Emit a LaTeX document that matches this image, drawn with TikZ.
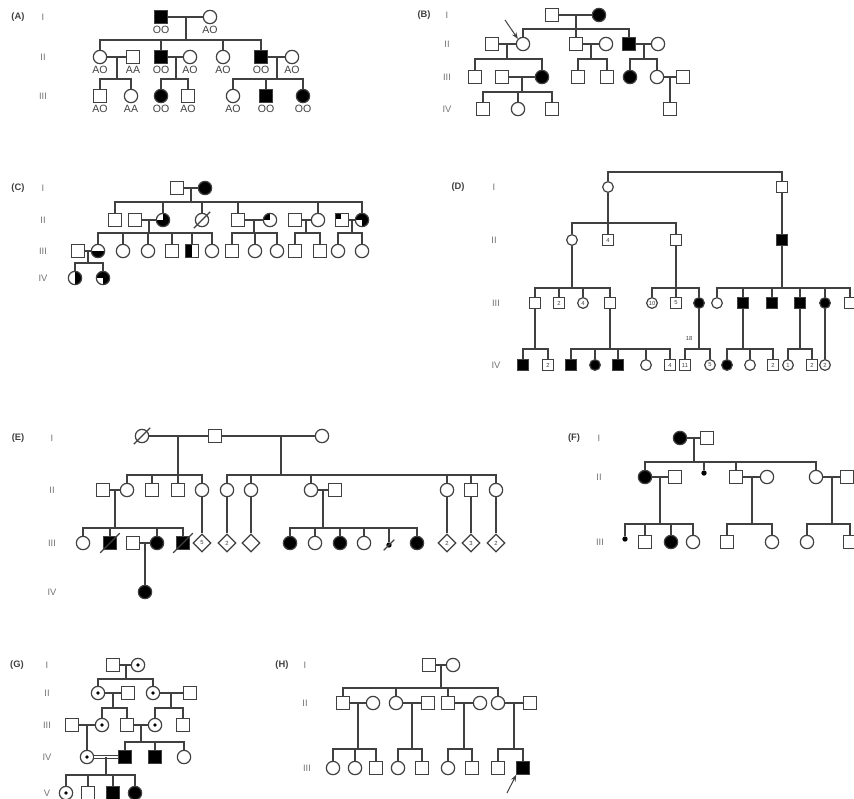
\documentclass[tikz,border=0pt]{standalone}
\usepackage{fontspec}
\setmainfont{Liberation Sans}
\usetikzlibrary{arrows.meta,shapes.geometric}

\begin{document}
\begin{tikzpicture}[
  x=0.3mm, y=-0.3mm,
  font=\fontsize{9}{10}\selectfont,
  line width=0.36mm, color=black!75,
  male/.style={draw, fill=white, minimum size=3.7mm, inner sep=0pt},
  female/.style={circle, draw, fill=white, minimum size=4mm, inner sep=0pt},
  unknown/.style={diamond, draw, fill=white, minimum size=5.4mm, inner sep=0pt,
                  font=\fontsize{5}{5}\selectfont},
  tinysym/.style={minimum size=3.2mm, font=\fontsize{5}{5}\selectfont},
  aff/.style={fill=black},
  mdot/.style={circle, fill=black, minimum size=1.6mm, inner sep=0pt},
  carrier/.style={path picture={\fill[black] (path picture bounding box.center) circle (0.55mm);}},
  rhalf/.style={path picture={\fill[black] (path picture bounding box.north) rectangle (path picture bounding box.south east);}},
  lhalf/.style={path picture={\fill[black] (path picture bounding box.north west) rectangle (path picture bounding box.south);}},
  bhalf/.style={path picture={\fill[black] (path picture bounding box.west) rectangle (path picture bounding box.south east);}},
  tlquart/.style={path picture={\fill[black] (path picture bounding box.north west) rectangle (path picture bounding box.center);}},
  nottl/.style={path picture={\fill[black] (path picture bounding box.north) rectangle (path picture bounding box.south east);
                              \fill[black] (path picture bounding box.west) rectangle (path picture bounding box.south);}},
  notbl/.style={path picture={\fill[black] (path picture bounding box.north) rectangle (path picture bounding box.south east);
                              \fill[black] (path picture bounding box.north west) rectangle (path picture bounding box.center);}},
  tlcorner/.style={path picture={\fill[black] (path picture bounding box.north west) rectangle ++(1.5mm,-1.5mm);}},
  geno/.style={font=\fontsize{9}{9}\selectfont, inner sep=1.3pt},
  gen/.style={text=black!55, font=\fontsize{8}{9}\selectfont},
  panel/.style={font=\bfseries\fontsize{8}{9}\selectfont},
  arr/.style={-{Stealth[length=2mm,width=1.5mm]}, line width=0.3mm}
]
\useasboundingbox (0,0) rectangle (854,798);

% ---------- (A)
\node[panel] (labA) at (18,17) {(A)};
\node[gen] (AgI) at (43,17) {I};
\node[gen] (AgII) at (43,57) {II};
\node[gen] (AgIII) at (43,96) {III};
\node[male, aff, label={[geno]below:OO}] (A1) at (161,17) {};
\node[female, label={[geno]below:AO}] (A2) at (210,17) {};
\node[female, label={[geno]below:AO}] (A3) at (100,57) {};
\node[male, label={[geno]below:AA}] (A4) at (133,57) {};
\node[male, aff, label={[geno]below:OO}] (A5) at (161,57) {};
\node[female, label={[geno]below:AO}] (A6) at (190,57) {};
\node[female, label={[geno]below:AO}] (A7) at (223,57) {};
\node[male, aff, label={[geno]below:OO}] (A8) at (261,57) {};
\node[female, label={[geno]below:AO}] (A9) at (292,57) {};
\node[male, label={[geno]below:AO}] (A10) at (100,96) {};
\node[female, label={[geno]below:AA}] (A11) at (131,96) {};
\node[female, aff, label={[geno]below:OO}] (A12) at (161,96) {};
\node[male, label={[geno]below:AO}] (A13) at (188,96) {};
\node[female, label={[geno]below:AO}] (A14) at (233,96) {};
\node[male, aff, label={[geno]below:OO}] (A15) at (266,96) {};
\node[female, aff, label={[geno]below:OO}] (A16) at (303,96) {};
\coordinate (jA1) at (186,40);
\coordinate (jA2) at (117,79);
\coordinate (jA3) at (176,79);
\coordinate (jA4) at (277,79);
\draw (A1) -- (A2);
\draw (jA1 |- A1) -- (jA1);
\draw (A3.north) |- (jA1) -| (A8.north);
\draw (A5.north) -- (A5.north |- jA1) (A7.north) -- (A7.north |- jA1);
\draw (A3) -- (A4);
\draw (jA2 |- A3) -- (jA2);
\draw (A10.north) |- (jA2) -| (A11.north);
\draw (A5) -- (A6);
\draw (jA3 |- A5) -- (jA3);
\draw (A12.north) |- (jA3) -| (A13.north);
\draw (A8) -- (A9);
\draw (jA4 |- A8) -- (jA4);
\draw (A14.north) |- (jA4) -| (A16.north);
\draw (A15.north) -- (A15.north |- jA4);

% ---------- (B)
\node[panel] (labB) at (424,15) {(B)};
\node[gen] (BgI) at (447,15) {I};
\node[gen] (BgII) at (447,44) {II};
\node[gen] (BgIII) at (447,77) {III};
\node[gen] (BgIV) at (447,109) {IV};
\node[male] (B1) at (552,15) {};
\node[female, aff] (B2) at (599,15) {};
\node[male] (B3) at (492,44) {};
\node[female] (B4) at (523,44) {};
\node[male] (B5) at (576,44) {};
\node[female] (B6) at (606,44) {};
\node[male, aff] (B7) at (629,44) {};
\node[female] (B8) at (658,44) {};
\node[male] (B9) at (475,77) {};
\node[male] (B10) at (502,77) {};
\node[female, aff] (B11) at (542,77) {};
\node[male] (B12) at (578,77) {};
\node[male] (B13) at (607,77) {};
\node[female, aff] (B14) at (630,77) {};
\node[female] (B15) at (657,77) {};
\node[male] (B16) at (683,77) {};
\node[male] (B17) at (483,109) {};
\node[female] (B18) at (518,109) {};
\node[male] (B19) at (552,109) {};
\node[male] (B20) at (670,109) {};
\coordinate (jB1) at (576,29);
\coordinate (jB2) at (507,59);
\coordinate (jB3) at (591,59);
\coordinate (jB4) at (644,59);
\coordinate (jB5) at (522,92);
\coordinate (jB6) at (670,92);
\coordinate (pB) at (505,20);
\draw (B1) -- (B2);
\draw (jB1 |- B1) -- (jB1);
\draw (B4.north) |- (jB1) -| (B7.north);
\draw (B5.north) -- (B5.north |- jB1);
\draw (B3) -- (B4);
\draw (jB2 |- B3) -- (jB2);
\draw (B9.north) |- (jB2) -| (B11.north);
\draw (B5) -- (B6);
\draw (jB3 |- B5) -- (jB3);
\draw (B12.north) |- (jB3) -| (B13.north);
\draw (B7) -- (B8);
\draw (jB4 |- B7) -- (jB4);
\draw (B14.north) |- (jB4) -| (B15.north);
\draw (B10) -- (B11);
\draw (jB5 |- B10) -- (jB5);
\draw (B17.north) |- (jB5) -| (B19.north);
\draw (B18.north) -- (B18.north |- jB5);
\draw (B15) -- (B16);
\draw (jB6 |- B15) -- (B20);
\draw[arr] (pB) -- (B4.north west);

% ---------- (C)
\node[panel] (labC) at (18,188) {(C)};
\node[gen] (CgI) at (43,188) {I};
\node[gen] (CgII) at (43,220) {II};
\node[gen] (CgIII) at (43,251) {III};
\node[gen] (CgIV) at (43,278) {IV};
\node[male] (C1) at (177,188) {};
\node[female, aff] (C2) at (205,188) {};
\node[male] (C3) at (115,220) {};
\node[male] (C4) at (135,220) {};
\node[female, nottl] (C5) at (163,220) {};
\node[female] (C6) at (202,220) {};
\node[male] (C7) at (238,220) {};
\node[female, tlquart] (C8) at (270,220) {};
\node[male] (C9) at (295,220) {};
\node[female] (C10) at (318,220) {};
\node[male, tlcorner] (C11) at (342,220) {};
\node[female, notbl] (C12) at (362,220) {};
\node[male] (C13) at (78,251) {};
\node[female, bhalf] (C14) at (98,251) {};
\node[female] (C15) at (123,251) {};
\node[female] (C16) at (148,251) {};
\node[male] (C17) at (172,251) {};
\node[male, lhalf] (C18) at (192,251) {};
\node[female] (C19) at (212,251) {};
\node[male] (C20) at (232,251) {};
\node[female] (C21) at (255,251) {};
\node[female] (C22) at (277,251) {};
\node[male] (C23) at (295,251) {};
\node[male] (C24) at (320,251) {};
\node[female] (C25) at (338,251) {};
\node[female] (C26) at (362,251) {};
\node[female, rhalf] (C27) at (75,278) {};
\node[female, notbl] (C28) at (103,278) {};
\coordinate (jC1) at (191,202);
\coordinate (jC2) at (149,233);
\coordinate (jC3) at (254,233);
\coordinate (jC4) at (306,233);
\coordinate (jC5) at (352,233);
\coordinate (jC6) at (88,263);
\draw (C1) -- (C2);
\draw (jC1 |- C1) -- (jC1);
\draw (C3.north) |- (jC1) -| (C12.north);
\draw (C5.north) -- (C5.north |- jC1) (C6.north) -- (C6.north |- jC1)
      (C7.north) -- (C7.north |- jC1) (C10.north) -- (C10.north |- jC1);
\draw ([shift={(-0.9mm,-0.9mm)}]C6.south west) -- ([shift={(0.9mm,0.9mm)}]C6.north east);
\draw (C4) -- (C5);
\draw (jC2 |- C4) -- (jC2);
\draw (C14.north) |- (jC2) -| (C19.north);
\draw (C15.north) -- (C15.north |- jC2) (C16.north) -- (C16.north |- jC2)
      (C17.north) -- (C17.north |- jC2) (C18.north) -- (C18.north |- jC2);
\draw (C7) -- (C8);
\draw (jC3 |- C7) -- (jC3);
\draw (C20.north) |- (jC3) -| (C22.north);
\draw (C21.north) -- (C21.north |- jC3);
\draw (C9) -- (C10);
\draw (jC4 |- C9) -- (jC4);
\draw (C23.north) |- (jC4) -| (C24.north);
\draw (C11) -- (C12);
\draw (jC5 |- C11) -- (jC5);
\draw (C25.north) |- (jC5) -| (C26.north);
\draw (C13) -- (C14);
\draw (jC6 |- C13) -- (jC6);
\draw (C27.north) |- (jC6) -| (C28.north);

% ---------- (D)
\node[panel] (labD) at (458,187) {(D)};
\node[gen] (DgI) at (494,187) {I};
\node[gen] (DgII) at (494,240) {II};
\node[gen] (DgIII) at (496,303) {III};
\node[gen] (DgIV) at (496,365) {IV};
\node[female, tinysym] (D1) at (608,187) {};
\node[male, tinysym] (D2) at (782,187) {};
\node[female, tinysym] (D3) at (572,240) {};
\node[male, tinysym] (D4) at (608,240) {4};
\node[male, tinysym] (D5) at (676,240) {};
\node[male, tinysym, aff] (D6) at (782,240) {};
\node[male, tinysym] (D7) at (535,303) {};
\node[male, tinysym] (D8) at (559,303) {2};
\node[female, tinysym] (D9) at (583,303) {4};
\node[male, tinysym] (D10) at (610,303) {};
\node[female, tinysym] (D11) at (652,303) {10};
\node[male, tinysym] (D12) at (676,303) {5};
\node[female, tinysym, aff] (D13) at (699,303) {};
\node[female, tinysym] (D14) at (717,303) {};
\node[male, tinysym, aff] (D15) at (743,303) {};
\node[male, tinysym, aff] (D16) at (772,303) {};
\node[male, tinysym, aff] (D17) at (800,303) {};
\node[female, tinysym, aff] (D18) at (825,303) {};
\node[male, tinysym] (D19) at (850,303) {};
\node[male, tinysym, aff] (D20) at (523,365) {};
\node[male, tinysym] (D21) at (548,365) {2};
\node[male, tinysym, aff] (D22) at (571,365) {};
\node[female, tinysym, aff] (D23) at (595,365) {};
\node[male, tinysym, aff] (D24) at (618,365) {};
\node[female, tinysym] (D25) at (646,365) {};
\node[male, tinysym] (D26) at (670,365) {4};
\node[male, tinysym] (D27) at (685,365) {11};
\node[female, tinysym] (D28) at (710,365) {5};
\node[female, tinysym, aff] (D29) at (727,365) {};
\node[female, tinysym] (D30) at (750,365) {};
\node[male, tinysym] (D31) at (773,365) {2};
\node[female, tinysym] (D32) at (788,365) {1};
\node[male, tinysym] (D33) at (812,365) {2};
\node[female, tinysym] (D34) at (825,365) {2};
\node[font=\fontsize{5}{5}\selectfont] (n18) at (689,338) {18};
\coordinate (jD0) at (695,172);
\coordinate (jD1) at (608,223);
\coordinate (jD2) at (572,288);
\coordinate (jD3) at (676,288);
\coordinate (jD4) at (782,288);
\coordinate (jD5) at (535,349);
\coordinate (jD6) at (610,349);
\coordinate (jD7) at (699,349);
\coordinate (jD8) at (743,349);
\coordinate (jD9) at (800,349);
\draw (D1.north) |- (jD0) -| (D2.north);
\draw (D2) -- (D6);
\draw (D1) -- (jD1);
\draw (D3.north) |- (jD1) -| (D5.north);
\draw (D4.north) -- (D4.north |- jD1);
\draw (D3) -- (jD2);
\draw (D7.north) |- (jD2) -| (D10.north);
\draw (D8.north) -- (D8.north |- jD2) (D9.north) -- (D9.north |- jD2);
\draw (D5) -- (jD3);
\draw (D11.north) |- (jD3) -| (D13.north);
\draw (D12.north) -- (D12.north |- jD3);
\draw (D6) -- (jD4);
\draw (D14.north) |- (jD4) -| (D19.north);
\draw (D15.north) -- (D15.north |- jD4) (D16.north) -- (D16.north |- jD4)
      (D17.north) -- (D17.north |- jD4) (D18.north) -- (D18.north |- jD4);
\draw (D7) -- (jD5);
\draw (D20.north) |- (jD5) -| (D21.north);
\draw (D10) -- (jD6);
\draw (D22.north) |- (jD6) -| (D26.north);
\draw (D23.north) -- (D23.north |- jD6) (D24.north) -- (D24.north |- jD6)
      (D25.north) -- (D25.north |- jD6);
\draw (D13) -- (jD7);
\draw (D27.north) |- (jD7) -| (D28.north);
\draw (D15) -- (jD8);
\draw (D29.north) |- (jD8) -| (D31.north);
\draw (D30.north) -- (D30.north |- jD8);
\draw (D17) -- (jD9);
\draw (D32.north) |- (jD9) -| (D33.north);
\draw (D18) -- (D34);

% ---------- (E)
\node[panel] (labE) at (18,438) {(E)};
\node[gen] (EgI) at (52,438) {I};
\node[gen] (EgII) at (52,490) {II};
\node[gen] (EgIII) at (52,543) {III};
\node[gen] (EgIV) at (52,592) {IV};
\node[female] (E1) at (142,436) {};
\node[male] (E2) at (215,436) {};
\node[female] (E3) at (322,436) {};
\node[female] (E4) at (127,490) {};
\node[male] (E5) at (152,490) {};
\node[male] (E6) at (178,490) {};
\node[female] (E7) at (202,490) {};
\node[female] (E8) at (227,490) {};
\node[female] (E9) at (251,490) {};
\node[female] (E10) at (311,490) {};
\node[female] (E11) at (447,490) {};
\node[male] (E12) at (471,490) {};
\node[female] (E13) at (496,490) {};
\node[male] (E14) at (103,490) {};
\node[male] (E15) at (335,490) {};
\node[female] (E16) at (83,543) {};
\node[male, aff] (E17) at (110,543) {};
\node[male] (E18) at (133,543) {};
\node[female, aff] (E19) at (157,543) {};
\node[male, aff] (E20) at (183,543) {};
\node[unknown] (E21) at (202,543) {5};
\node[unknown] (E22) at (227,543) {2};
\node[unknown] (E23) at (251,543) {};
\node[female, aff] (E24) at (290,543) {};
\node[female] (E25) at (315,543) {};
\node[female, aff] (E26) at (340,543) {};
\node[female] (E27) at (364,543) {};
\node[mdot] (E28) at (389,545) {};
\node[female, aff] (E29) at (417,543) {};
\node[unknown] (E30) at (447,543) {2};
\node[unknown] (E31) at (471,543) {3};
\node[unknown] (E32) at (496,543) {2};
\node[female, aff] (E33) at (145,592) {};
\coordinate (jE1) at (178,475);
\coordinate (jE2) at (281,475);
\coordinate (jE3) at (115,528);
\coordinate (jE4) at (323,528);
\coordinate (jE5) at (145,560);
\draw (E1) -- (E2) -- (E3);
\draw (jE1 |- E1) -- (jE1);
\draw (E4.north) |- (jE1) -| (E7.north);
\draw (E5.north) -- (E5.north |- jE1) (E6.north) -- (E6.north |- jE1);
\draw (jE2 |- E2) -- (jE2);
\draw (E8.north) |- (jE2) -| (E13.north);
\draw (E9.north) -- (E9.north |- jE2) (E10.north) -- (E10.north |- jE2)
      (E11.north) -- (E11.north |- jE2) (E12.north) -- (E12.north |- jE2);
\draw (E14) -- (E4);
\draw (jE3 |- E14) -- (jE3);
\draw (E16.north) |- (jE3) -| (E20.north);
\draw (E17.north) -- (E17.north |- jE3) (E19.north) -- (E19.north |- jE3);
\draw (E18) -- (E19);
\draw (jE5 |- E18) -- (E33);
\draw (E7) -- (E21);
\draw (E8) -- (E22);
\draw (E9) -- (E23);
\draw (E10) -- (E15);
\draw (jE4 |- E10) -- (jE4);
\draw (E24.north) |- (jE4) -| (E29.north);
\draw (E25.north) -- (E25.north |- jE4) (E26.north) -- (E26.north |- jE4)
      (E27.north) -- (E27.north |- jE4) (E28.north) -- (E28.north |- jE4);
\draw (E11) -- (E30);
\draw (E12) -- (E31);
\draw (E13) -- (E32);
\draw ([shift={(-0.9mm,-0.9mm)}]E1.south west) -- ([shift={(0.9mm,0.9mm)}]E1.north east);
\draw ([shift={(-0.9mm,-0.9mm)}]E17.south west) -- ([shift={(0.9mm,0.9mm)}]E17.north east);
\draw ([shift={(-0.9mm,-0.9mm)}]E20.south west) -- ([shift={(0.9mm,0.9mm)}]E20.north east);
\draw ([shift={(-0.9mm,-0.9mm)}]E28.south west) -- ([shift={(0.9mm,0.9mm)}]E28.north east);

% ---------- (F)
\node[panel] (labF) at (574,438) {(F)};
\node[gen] (FgI) at (599,438) {I};
\node[gen] (FgII) at (599,477) {II};
\node[gen] (FgIII) at (600,542) {III};
\node[female, aff] (F1) at (680,438) {};
\node[male] (F2) at (707,438) {};
\node[female, aff] (F3) at (645,477) {};
\node[male] (F4) at (675,477) {};
\node[mdot] (F5) at (704,473) {};
\node[male] (F6) at (736,477) {};
\node[female] (F7) at (767,477) {};
\node[female] (F8) at (816,477) {};
\node[male] (F9) at (847,477) {};
\node[mdot] (F10) at (625,539) {};
\node[male] (F11) at (645,542) {};
\node[female, aff] (F12) at (671,542) {};
\node[female] (F13) at (693,542) {};
\node[male] (F14) at (727,542) {};
\node[female] (F15) at (772,542) {};
\node[female] (F16) at (807,542) {};
\node[male] (F17) at (850,542) {};
\coordinate (jF1) at (694,462);
\coordinate (jF2) at (660,524);
\coordinate (jF3) at (752,524);
\coordinate (jF4) at (832,524);
\draw (F1) -- (F2);
\draw (jF1 |- F1) -- (jF1);
\draw (F3.north) |- (jF1) -| (F8.north);
\draw (F5.north) -- (F5.north |- jF1) (F6.north) -- (F6.north |- jF1);
\draw (F3) -- (F4);
\draw (jF2 |- F3) -- (jF2);
\draw (F10.north) |- (jF2) -| (F13.north);
\draw (F11.north) -- (F11.north |- jF2) (F12.north) -- (F12.north |- jF2);
\draw (F6) -- (F7);
\draw (jF3 |- F6) -- (jF3);
\draw (F14.north) |- (jF3) -| (F15.north);
\draw (F8) -- (F9);
\draw (jF4 |- F8) -- (jF4);
\draw (F16.north) |- (jF4) -| (F17.north);

% ---------- (G)
\node[panel] (labG) at (17,665) {(G)};
\node[gen] (GgI) at (47,665) {I};
\node[gen] (GgII) at (47,693) {II};
\node[gen] (GgIII) at (47,725) {III};
\node[gen] (GgIV) at (47,757) {IV};
\node[gen] (GgV) at (47,793) {V};
\node[male] (G1) at (113,665) {};
\node[female, carrier] (G2) at (138,665) {};
\node[female, carrier] (G3) at (98,693) {};
\node[male] (G4) at (128,693) {};
\node[female, carrier] (G5) at (153,693) {};
\node[male] (G6) at (190,693) {};
\node[male] (G7) at (72,725) {};
\node[female, carrier] (G8) at (102,725) {};
\node[male] (G9) at (127,725) {};
\node[female, carrier] (G10) at (155,725) {};
\node[male] (G11) at (183,725) {};
\node[female, carrier] (G12) at (87,757) {};
\node[male, aff] (G13) at (125,757) {};
\node[male, aff] (G14) at (155,757) {};
\node[female] (G15) at (184,757) {};
\node[female, carrier] (G16) at (66,793) {};
\node[male] (G17) at (88,793) {};
\node[male, aff] (G18) at (113,793) {};
\node[female, aff] (G19) at (135,793) {};
\coordinate (jG1) at (126,679);
\coordinate (jG2) at (113,708);
\coordinate (jG3) at (171,708);
\coordinate (jG4) at (87,740);
\coordinate (jG5) at (141,742);
\coordinate (jG6) at (106,775);
\draw (G1) -- (G2);
\draw (jG1 |- G1) -- (jG1);
\draw (G3.north) |- (jG1) -| (G5.north);
\draw (G3) -- (G4);
\draw (jG2 |- G3) -- (jG2);
\draw (G8.north) |- (jG2) -| (G9.north);
\draw (G5) -- (G6);
\draw (jG3 |- G5) -- (jG3);
\draw (G10.north) |- (jG3) -| (G11.north);
\draw (G7) -- (G8);
\draw (jG4 |- G7) -- (G12);
\draw (G9) -- (G10);
\draw (jG5 |- G9) -- (jG5);
\draw (G13.north) |- (jG5) -| (G15.north);
\draw (G14.north) -- (G14.north |- jG5);
\draw[double, double distance=0.5mm, line width=0.25mm] (G12) -- (G13);
\draw (jG6 |- G12) -- (jG6);
\draw (G16.north) |- (jG6) -| (G19.north);
\draw (G17.north) -- (G17.north |- jG6) (G18.north) -- (G18.north |- jG6);

% ---------- (H)
\node[panel] (labH) at (282,665) {(H)};
\node[gen] (HgI) at (305,665) {I};
\node[gen] (HgII) at (305,703) {II};
\node[gen] (HgIII) at (307,768) {III};
\node[male] (H1) at (429,665) {};
\node[female] (H2) at (453,665) {};
\node[male] (H3) at (343,703) {};
\node[female] (H4) at (373,703) {};
\node[female] (H5) at (396,703) {};
\node[male] (H6) at (428,703) {};
\node[male] (H7) at (448,703) {};
\node[female] (H8) at (480,703) {};
\node[female] (H9) at (498,703) {};
\node[male] (H10) at (530,703) {};
\node[female] (H11) at (333,768) {};
\node[female] (H12) at (355,768) {};
\node[male] (H13) at (376,768) {};
\node[female] (H14) at (398,768) {};
\node[male] (H15) at (422,768) {};
\node[female] (H16) at (448,768) {};
\node[male] (H17) at (472,768) {};
\node[male] (H18) at (498,768) {};
\node[male, aff] (H19) at (523,768) {};
\coordinate (jH1) at (441,688);
\coordinate (jH2) at (358,749);
\coordinate (jH3) at (412,749);
\coordinate (jH4) at (464,749);
\coordinate (jH5) at (514,749);
\coordinate (pH) at (507,793);
\draw (H1) -- (H2);
\draw (jH1 |- H1) -- (jH1);
\draw (H3.north) |- (jH1) -| (H9.north);
\draw (H5.north) -- (H5.north |- jH1) (H7.north) -- (H7.north |- jH1);
\draw (H3) -- (H4);
\draw (jH2 |- H3) -- (jH2);
\draw (H11.north) |- (jH2) -| (H13.north);
\draw (H12.north) -- (H12.north |- jH2);
\draw (H5) -- (H6);
\draw (jH3 |- H5) -- (jH3);
\draw (H14.north) |- (jH3) -| (H15.north);
\draw (H7) -- (H8);
\draw (jH4 |- H7) -- (jH4);
\draw (H16.north) |- (jH4) -| (H17.north);
\draw (H9) -- (H10);
\draw (jH5 |- H9) -- (jH5);
\draw (H18.north) |- (jH5) -| (H19.north);
\draw[arr] (pH) -- (H19.south west);
\end{tikzpicture}
\end{document}
